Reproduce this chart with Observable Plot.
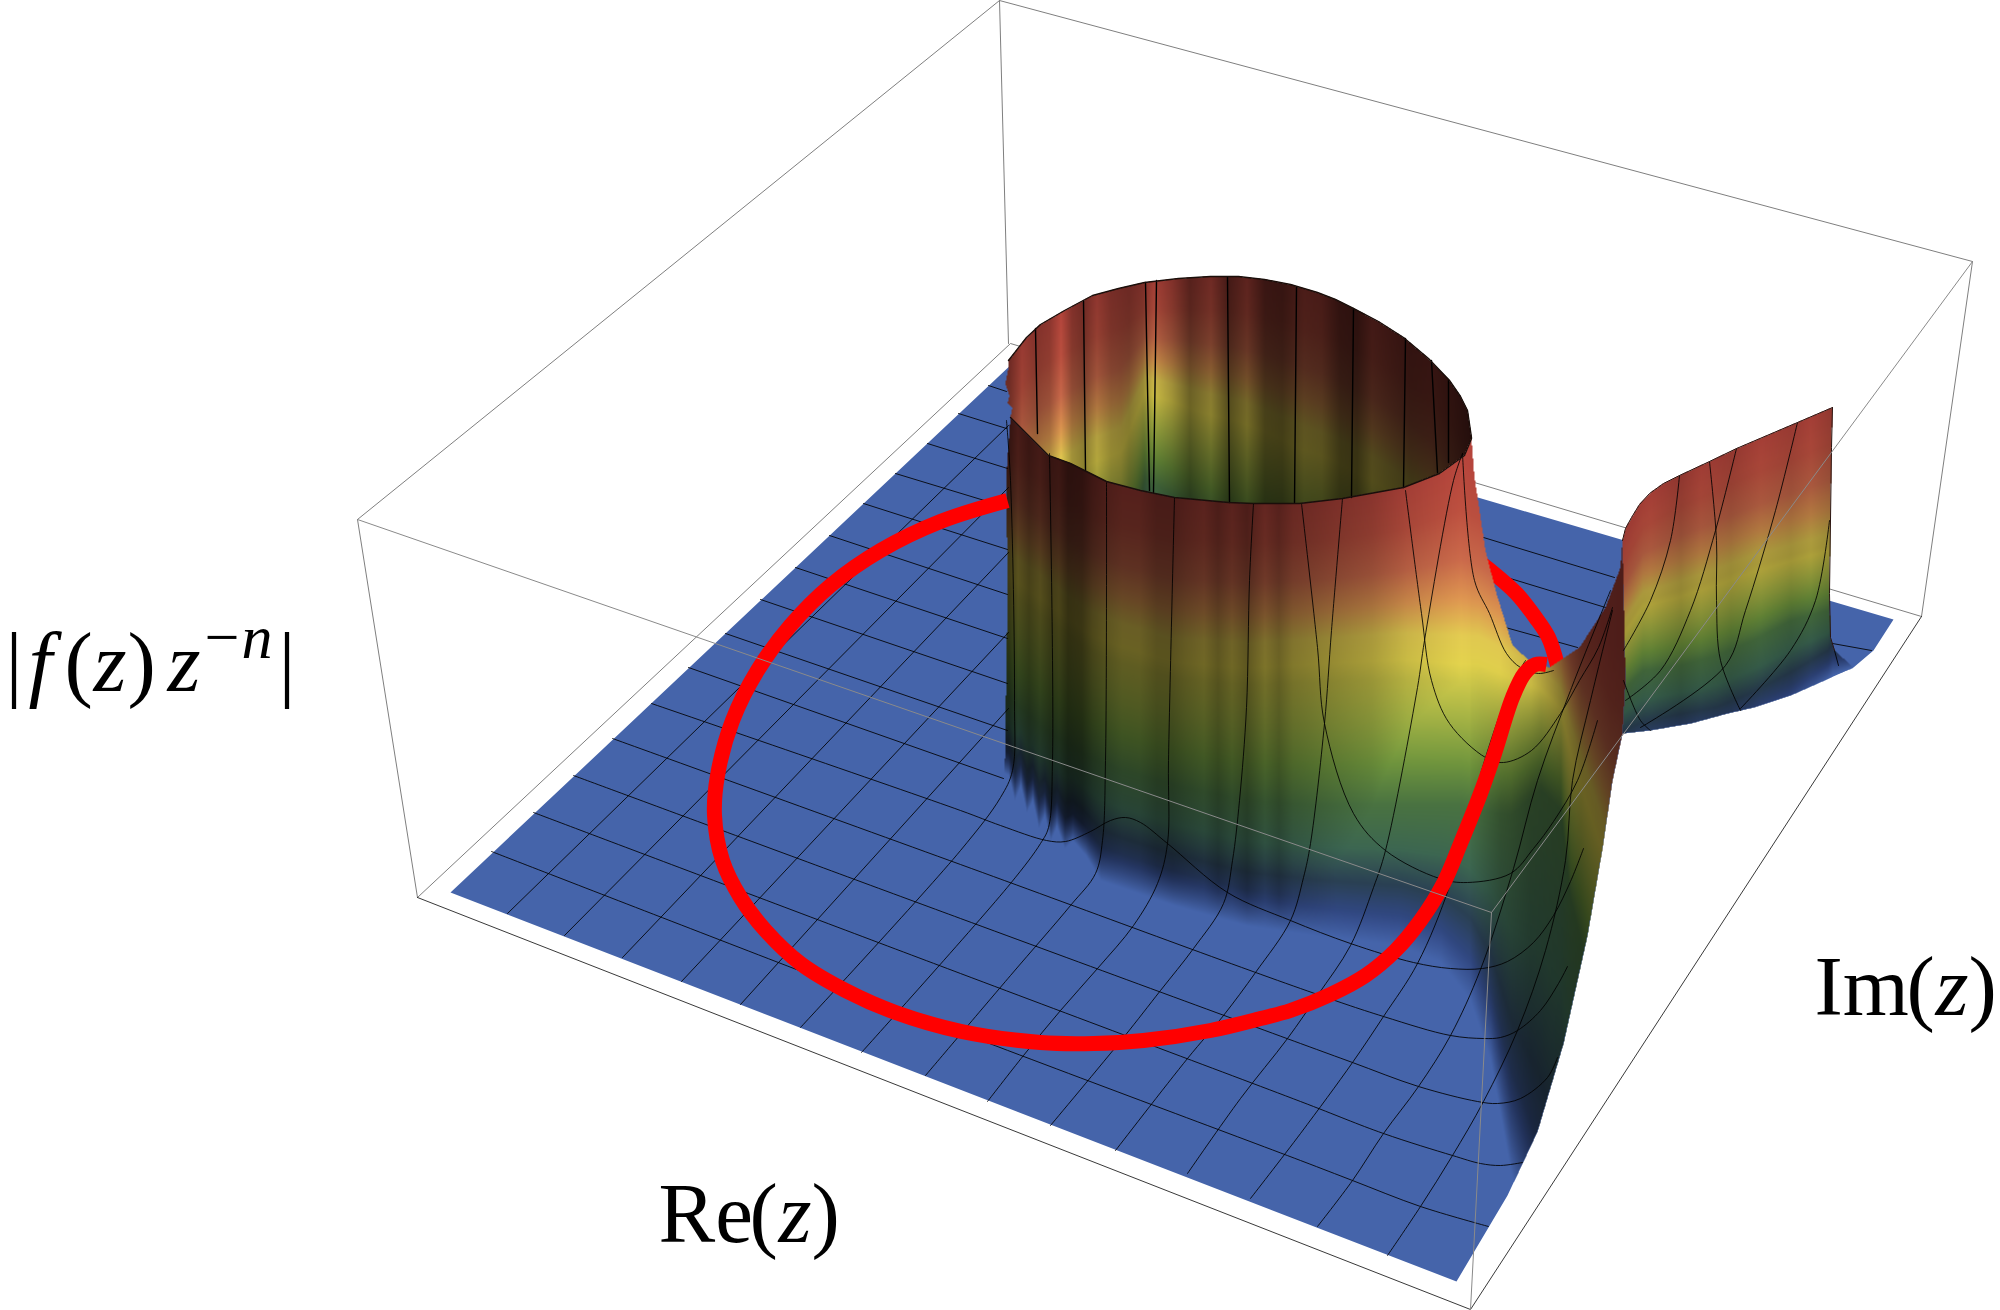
<!DOCTYPE html>
<html><head><meta charset="utf-8">
<script src="https://cdn.jsdelivr.net/npm/d3@7"></script>
<script src="https://cdn.jsdelivr.net/npm/@observablehq/plot@0.6"></script>
<style>html,body{margin:0;padding:0;background:#fff;overflow:hidden}svg{display:block}</style>
</head><body><div id="chart"></div>
<script>
// Picture-plane readings of the 3D box (Re, Im, |f z^-n|)
const boxBack = [
  [[357,519],[999,0],[1972,261]], [[999,0],[1008,343]], [[417,897],[1010,343],[1921,616]],
  [[357,519],[417,897]], [[1972,261],[1921,616]]];
const boxFrontThin = [[[417,897],[1470,1309],[1921,616]]];
const boxOver = [[[357,519],[1491,912],[1972,261]], [[1491,912],[1470,1309]]];
const floorOutline = [[450,892],[1014,361],[1893,619],[1873,650],[1853,667],[1790,695],[1753,707],[1727,713],[1690,723],[1649,730],[1622,733],[1612,780],[1602,848],[1587,935],[1563,1043],[1537,1131],[1507,1195],[1456,1281]];

// Height colours, high (0) to floor (1)
const heightStops = [0,.1,.2,.28,.35,.41,.52,.63,.72,.81,.88,.94,1];
const heightColors = ["#b5453c","#ba4f3f","#c8694a","#dc9650","#e0c850","#e0d04c","#a6b244","#6d923c","#487040","#3b6450","#2a3f52","#30467e","#4564aa"];

// Outer wall: y of each height level by column
const wallX      = [1000,1046,1085,1121,1174,1246,1317,1400,1460,1478,1510,1540,1560,1570,1590,1610,1630];
const wallTop    = [410,448,473,487,497,502,501,488,458,470,500,540,555,570,600,640,650];
const wallYellow = [560,590,620,635,650,655,650,645,650,650,665,680,700,740,800,860,900];
const wallGreen  = [690,730,755,770,785,800,805,805,805,810,815,790,810,900,980,1050,1100];
const wallBottomX = [1000,1008,1014,1020,1026,1032,1038,1044,1050,1056,1064,1072,1085,1100,1174,1246,1317,1400,1440,1470,1490,1510,1530,1550,1570,1590,1630];
const wallBottomY = [770,775,800,785,812,800,828,815,840,826,848,840,855,880,905,925,935,945,962,1000,1060,1170,1250,1340,1380,1420,1500];
const wallShadeX = [1000,1008,1017,1028,1039,1049,1058,1067,1081,1092,1106,1121,1139,1156,1171,1185,1203,1217,1231,1246,1264,1278,1292,1310,1335,1371,1406,1460,1480];
const wallShadeV = [.28,.28,.40,.32,.38,.30,.33,.24,.26,.35,.42,.47,.47,.40,.40,.45,.50,.42,.50,.42,.56,.48,.58,.62,.68,.76,.9,1.02,1.0];
const ridgeX    = [1470,1500,1530,1560,1580,1600,1630];
const ridgeHigh = [1,1,.9,.6,.47,.45,.42];
const ridgeLow  = [1,.72,.58,.55,.5,.5,.42];
const wallOutline = [[1010,417],[1023,430],[1033,440],[1048,455],[1070,463],[1106,481],[1140,490],[1174,497],[1228,502],[1253,503],[1299,503],[1342,498],[1403,487],[1439,473],[1464,455],[1471,438],[1474,477],[1478,503],[1485,550],[1496,593],[1512,645],[1531,662],[1549,667],[1579,647],[1605,607],[1620,567],[1622,540],[1625,680],[1622,733],[1612,780],[1602,848],[1587,935],[1563,1043],[1537,1131],[1507,1195],[1456,1281],[1004,790],[1007,600],[1006,473]];

// Inside of the cylinder
const rimTop = [[1008,360],[1026,337],[1040,324],[1064,310],[1092,295],[1118,288],[1144,282],[1178,278],[1210,276],[1238,276],[1264,279],[1290,284],[1317,292],[1335,299],[1353,308],[1378,321],[1403,337],[1428,358],[1449,380],[1460,396],[1467,410],[1471,437]];
const rimFront = [[1471,438],[1464,455],[1439,473],[1403,487],[1342,498],[1299,503],[1253,503],[1228,502],[1174,497],[1140,490],[1106,481],[1070,463],[1048,455],[1033,440],[1023,430],[1010,417]];
const rimTeeth = [[1012,407],[1007,403],[1009,395],[1005,383],[1008,367],[1008,360]];
const innerShadeX = [1008,1021,1035,1049,1060,1071,1083,1096,1110,1128,1142,1153,1171,1189,1210,1228,1246,1264,1281,1303,1321,1339,1356,1371,1392,1410,1431,1453,1471];
const innerShadeV = [.6,.85,.72,.78,1,.72,.62,.8,.66,.6,.68,.9,.72,.48,.62,.38,.52,.32,.3,.42,.4,.27,.25,.37,.32,.28,.3,.25,.2];
const innerSpanX = [1008,1120,1144,1200,1300,1471];
const innerSpanV = [430,400,270,330,395,400];

// Back-right sheet
const sheetX      = [1622,1642,1679,1716,1752,1790,1827,1832,1853];
const sheetTop    = [540,500,475,458,440,425,408,407,560];
const sheetYellow = [630,600,590,578,565,555,545,545,590];
const sheetGreen  = [690,670,665,655,640,620,610,600,620];
const sheetBottom = [760,760,750,745,730,710,680,675,667];
const sheetShadeX = [1622,1650,1680,1700,1730,1760,1790,1810,1832];
const sheetShadeV = [.72,.76,.66,.74,.68,.76,.7,.76,.66];
const sheetTopEdge = [[1622,540],[1625,528],[1631,517],[1639,504],[1649,493],[1663,483],[1679,475],[1709,461],[1736,448],[1797,422],[1832,407]];
const sheetSide = [[1832,407],[1831,447],[1829,593],[1830,637],[1834,650]];
const sheetOutline = [...sheetTopEdge,...sheetSide.slice(1),[1853,667],[1790,695],[1753,707],[1727,713],[1690,723],[1649,730],[1622,733],[1625,680],[1623,627]];

// Mesh curves: constant Im
const meshRows = [
 [[491,851],[960,1032],[1300,1160],[1352,1180],[1420,1206],[1488,1226]],
 [[533,812],[960,973],[1300,1101],[1383,1133],[1452,1155],[1480,1163],[1500,1165],[1522,1162]],
 [[573,775],[960,918],[1300,1043],[1352,1062],[1418,1086],[1477,1101],[1497,1103],[1520,1098],[1547,1077],[1557,1057]],
 [[612,738],[960,864],[1300,988],[1383,1016],[1450,1035],[1483,1038],[1500,1037],[1517,1030],[1540,1010],[1558,983],[1567,966]],
 [[651,703],[960,810],[1000,825],[1046,840],[1065,841],[1090,831],[1110,820],[1125,817],[1140,822],[1167,843],[1227,892],[1290,920],[1350,943],[1413,962],[1450,968],[1482,968],[1507,961],[1533,942],[1553,915],[1570,881],[1583,848]],
 [[688,667],[1003,778]],
 [[1301,503],[1317,647],[1324,723],[1353,813],[1385,850],[1439,878],[1467,882],[1510,873],[1533,848],[1553,821],[1577,780],[1597,720]],
 [[725,633],[1007,730]],
 [[1405,490],[1421,613],[1431,680],[1449,723],[1485,757],[1503,762],[1531,750],[1560,713],[1579,680],[1598,647],[1612,607]],
 [[760,599],[1007,683]],
 [[1462,453],[1474,580],[1489,613],[1506,653],[1520,667],[1538,673],[1553,670]],
 [[795,567],[1007,638]],[[829,535],[1007,594]],[[863,503],[1007,549]],[[895,473],[1007,507]],[[927,443],[1007,468]],[[958,413],[1006,428]],[[988,385],[1006,391]]
];
const meshRowsBehind = [[[1505,627],[1577,647]],[[1490,572],[1605,607]],[[1483,537],[1614,577]],[[1832,643],[1871,650]]];
// Mesh curves: constant Re
const meshCols = [
 [[507,913],[1008,425]],[[564,935],[1008,487]],[[622,957],[1008,552]],[[681,981],[1008,632]],[[740,1004],[1008,708]],
 [[800,1027],[960,850],[1000,797],[1012,770],[1014,700],[1010,480],[1006,420]],
 [[861,1052],[1010,883],[1040,843],[1048,827],[1052,760],[1049,453]],
 [[925,1075],[1010,975],[1070,905],[1095,873],[1102,840],[1105,760],[1106,482]],
 [[987,1101],[1023,1055],[1060,1010],[1097,968],[1133,925],[1157,883],[1167,843],[1168,760],[1174,497]],
 [[1050,1125],[1123,1037],[1160,990],[1193,948],[1223,903],[1232,860],[1239,800],[1246,707],[1249,580],[1253,503]],
 [[1115,1150],[1187,1058],[1223,1015],[1255,972],[1290,920],[1303,877],[1310,843],[1324,723],[1331,630],[1342,498]],
 [[1187,1173],[1240,1098],[1287,1038],[1317,995],[1350,945],[1373,887],[1385,850],[1417,687],[1424,640],[1453,480],[1462,453]],
 [[1250,1198],[1300,1133],[1352,1062],[1383,1016],[1417,963],[1450,883],[1485,757],[1510,687],[1525,660]],
 [[1317,1226],[1352,1180],[1383,1133],[1418,1086],[1450,1035],[1480,969],[1513,868],[1537,780],[1570,690],[1610,590]],
 [[1387,1255],[1420,1206],[1452,1155],[1483,1101],[1517,1030],[1545,950],[1565,860],[1572,780],[1590,700],[1612,610]]
];
const meshInside = [
 [[1035,328],[1037,433]],[[1083,300],[1085,470]],[[1145,282],[1149,490]],[[1156,280],[1153,492]],[[1227,277],[1229,502]],
 [[1296,287],[1294,502]],[[1353,308],[1351,497]],[[1405,338],[1403,487]],[[1431,360],[1437,472]],[[1448,380],[1448,462]]
];
const meshSheet = [
 [[1679,475],[1670,540],[1650,600],[1623,650]],
 [[1709,461],[1716,540],[1716,600],[1720,660],[1740,710]],
 [[1736,448],[1715,530],[1690,610],[1660,670],[1625,700]],
 [[1797,422],[1775,510],[1745,610],[1725,665],[1640,727]],
 [[1829,520],[1815,600],[1790,650],[1740,708]],
 [[1623,680],[1640,720],[1650,730]],
 [[1834,650],[1838,665]]
];
// |f(z) z^-n| = 1 contour
const redFront = [[1007,500],[940,521],[880,550],[830,585],[790,625],[757,670],[732,720],[717,775],[714,815],[722,860],[740,897],[765,930],[800,963],[845,990],[895,1012],[961,1031],[1040,1042],[1093,1043],[1143,1040],[1210,1030],[1260,1018],[1290,1010],[1330,994],[1365,975],[1395,950],[1420,920],[1443,883],[1460,843],[1480,793],[1494,753],[1512,697],[1524,673],[1535,664],[1546,664]];
const redBack = [[1557,665],[1548,637],[1535,617],[1516,593],[1490,570],[1470,555]];

// Each run: string, italic, x, dy, font size
const labels = [
 {text:"|f(z) z−n|", x:5, y:690, parts:[["|",0,5,0,85],["f",1,28,0,85],["(",0,64,0,85],["z",1,93,0,85],[")",0,127,0,85],["z",1,167,0,85],["−",0,204,-33,62],["n",1,241,0,62],["|",0,278,33,85]]},
 {text:"Re(z)", x:658, y:1241, parts:[["Re",0,658,0,85],["(",0,749,0,85],["z",1,778,0,85],[")",0,811,0,85]]},
 {text:"Im(z)", x:1814, y:1014, parts:[["Im",0,1814,0,85],["(",0,1906,0,85],["z",1,1935,0,85],[")",0,1968,0,85]]}
];

const table = (lines) => lines.flatMap((pts, id) => pts.map(([x, y]) => ({x, y, id})));
const lerp = (xs, ys) => d3.scaleLinear().domain(xs).range(ys).clamp(true);
const palette = d3.scaleLinear().domain(heightStops).range(heightColors).interpolate(d3.interpolateRgb).clamp(true);
const paletteRGB = d3.range(1025).map((i) => d3.rgb(palette(i / 1024)));

function color(t, s) {
  if (t >= 1) return null;
  const p = paletteRGB[Math.round(t * 1024)];
  const e = t < .92 ? s : s + (1 - s) * (t - .92) / .08;
  return `rgb(${Math.min(255, p.r * e)|0},${Math.min(255, p.g * e)|0},${Math.min(255, p.b * e)|0})`;
}
function level(y, top, yel, grn, bot) {
  if (y <= top) return 0;
  if (y < yel) return .38 * (y - top) / (yel - top);
  if (y < grn) return .38 + .34 * (y - yel) / (grn - yel);
  if (y < bot) return .72 + .28 * (y - grn) / (bot - grn);
  return 1;
}
const cached = (f) => { const m = new Map(); return (x) => { const k = Math.floor(x); let v = m.get(k); if (!v) { v = f(k); m.set(k, v); } return v; }; };

const wallTopS = lerp(wallX, wallTop), wallYelS = lerp(wallX, wallYellow), wallGrnS = lerp(wallX, wallGreen),
      wallBotS = lerp(wallBottomX, wallBottomY), wallShS = lerp(wallShadeX, wallShadeV),
      rHi = lerp(ridgeX, ridgeHigh), rLo = lerp(ridgeX, ridgeLow);
const wallCol = cached((x) => [wallTopS(x), wallYelS(x), wallGrnS(x), wallBotS(x), wallShS(x), rHi(x), rLo(x)]);
function wallFill(x, y) {
  if (!d3.polygonContains(wallOutline, [x, y])) return null;
  const [a, b, c, d, s, hi, lo] = wallCol(x);
  const t = level(y, a, b, c, d);
  let sh;
  if (x >= 1470) { const k = Math.max(0, Math.min(1, (t - .4) / .3)); sh = hi + (lo - hi) * k; }
  else { const k = Math.max(0, Math.min(1, (t - .45) / .4)); sh = Math.min(1.02, s * (1 + .5 * k)); }
  return color(t, sh);
}
const rimXs = rimTop.map((d) => d[0]), rimYs = rimTop.map((d) => d[1]);
const rimS = lerp(rimXs, rimYs), innerS = lerp(innerShadeX, innerShadeV), spanS = lerp(innerSpanX, innerSpanV);
const innerOutline = [...rimTop, ...rimFront, ...rimTeeth];
const innerCol = cached((x) => [rimS(x), innerS(x), spanS(x)]);
function innerFill(x, y) {
  if (!d3.polygonContains(innerOutline, [x, y])) return null;
  const [top, s, span] = innerCol(x);
  return color(Math.max(0, (y - top) / span), s);
}
const shT = lerp(sheetX, sheetTop), shY = lerp(sheetX, sheetYellow), shG = lerp(sheetX, sheetGreen), shB = lerp(sheetX, sheetBottom), shS = lerp(sheetShadeX, sheetShadeV);
const sheetCol = cached((x) => [shT(x), shY(x), shG(x), shB(x), shS(x)]);
function sheetFill(x, y) {
  if (!d3.polygonContains(sheetOutline, [x, y])) return null;
  const [a, b, c, d, s] = sheetCol(x);
  const t = level(y, a, b, c, d);
  return color(t, s * (1 + .2 * Math.min(1, Math.abs(t - .38) / .3)));
}

const xyLine = (lines, opts) => Plot.line(table(lines), {x: "x", y: "y", z: "id", ...opts});
const raster = (x1, y1, x2, y2, fill) => Plot.raster({x1, y1, x2, y2, width: x2 - x1, height: y2 - y1, fill, imageRendering: "auto"});

const plot = Plot.plot({
  width: 2000, height: 1310, margin: 0,
  x: {domain: [0, 2000], range: [0, 2000], axis: null},
  y: {domain: [0, 1310], range: [0, 1310], axis: null},
  color: {type: "identity"},
  style: {background: "#fff"},
  marks: [
    xyLine(boxBack, {stroke: "#7f7f7f", strokeWidth: 1}),
    xyLine(boxFrontThin, {stroke: "#222", strokeWidth: 0.9}),
    xyLine([floorOutline], {fill: "#4564aa", stroke: "none"}),
    xyLine(meshRowsBehind, {stroke: "#000", strokeWidth: 0.85}),
    xyLine([redBack], {stroke: "#ff0000", strokeWidth: 15, curve: "catmull-rom", strokeLinecap: "butt"}),
    raster(1620, 400, 1860, 740, sheetFill),
    raster(1000, 270, 1480, 510, innerFill),
    raster(1000, 410, 1630, 1285, wallFill),
    xyLine([...meshRows, ...meshCols], {stroke: "#000", strokeWidth: 0.85, curve: "catmull-rom"}),
    xyLine(meshInside, {stroke: "#000", strokeWidth: 1.4}),
    xyLine(meshSheet, {stroke: "#000", strokeWidth: 0.85, curve: "catmull-rom"}),
    xyLine([rimTop, rimFront], {stroke: "#1a0e0a", strokeWidth: 1.4}),
    xyLine([sheetTopEdge, sheetSide], {stroke: "#2a1410", strokeWidth: 1}),
    xyLine([redFront], {stroke: "#ff0000", strokeWidth: 15, curve: "catmull-rom", strokeLinecap: "butt"}),
    xyLine(boxOver, {stroke: "#8a8a8a", strokeWidth: 1}),
    Plot.text(labels, {x: "x", y: "y", text: "text", textAnchor: "start", lineAnchor: "bottom", fontFamily: "Liberation Serif", fontSize: 85, fill: "#000"})
  ]
});
document.getElementById("chart").append(plot);

// Italic and superscript runs inside the real text labels
const ns = "http://www.w3.org/2000/svg";
plot.querySelectorAll('g[aria-label="text"] text').forEach((node) => {
  const lab = labels.find((d) => d.text === node.textContent);
  if (!lab) return;
  node.textContent = "";
  for (const [s, it, x, dy, size] of lab.parts) {
    const t = document.createElementNS(ns, "tspan");
    t.textContent = s;
    if (it) t.setAttribute("font-style", "italic");
    t.setAttribute("x", x - lab.x);
    if (dy) t.setAttribute("dy", dy);
    t.setAttribute("font-size", size);
    node.append(t);
  }
});
</script></body></html>
